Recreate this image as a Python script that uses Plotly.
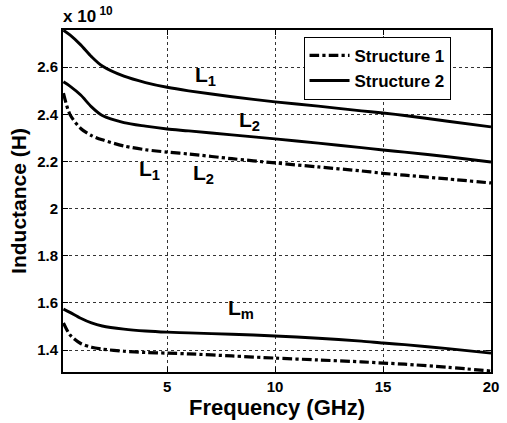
import plotly.graph_objects as go

freq = [0.2, 0.5, 1, 1.5, 2, 3, 4, 5, 6, 8, 10, 12, 14, 15, 16, 18, 20]

s2_L1 = [2.757, 2.737, 2.695, 2.645, 2.605, 2.562, 2.535, 2.515, 2.50, 2.475, 2.453, 2.435, 2.415, 2.406, 2.395, 2.371, 2.347]
s2_L2 = [2.538, 2.52, 2.482, 2.432, 2.395, 2.365, 2.35, 2.338, 2.33, 2.313, 2.296, 2.278, 2.259, 2.249, 2.24, 2.22, 2.198]
s1_L = [2.49, 2.40, 2.34, 2.31, 2.292, 2.266, 2.25, 2.24, 2.232, 2.212, 2.194, 2.177, 2.16, 2.15, 2.142, 2.126, 2.109]
s2_Lm = [1.574, 1.56, 1.535, 1.515, 1.502, 1.489, 1.481, 1.476, 1.473, 1.467, 1.46, 1.45, 1.438, 1.43, 1.423, 1.406, 1.387]
s1_Lm = [1.515, 1.465, 1.428, 1.412, 1.404, 1.395, 1.39, 1.387, 1.384, 1.375, 1.366, 1.358, 1.35, 1.345, 1.34, 1.327, 1.311]

x_ticks = [5, 10, 15, 20]
y_ticks = [1.4, 1.6, 1.8, 2.0, 2.2, 2.4, 2.6]
y_tick_text = ["1.4", "1.6", "1.8", "2", "2.2", "2.4", "2.6"]

label_text = ["L<sub>1</sub>", "L<sub>2</sub>", "L<sub>1</sub>", "L<sub>2</sub>", "L<sub>m</sub>"]
label_x = [6.77, 8.82, 4.18, 6.68, 8.4]
label_y = [2.562, 2.372, 2.162, 2.147, 1.575]

FONT = "Liberation Sans, Arial, sans-serif"

fig = go.Figure()
fig.add_trace(go.Scatter(x=freq, y=s1_L, mode="lines", name="Structure 1",
                         line=dict(color="black", width=3.2, dash="dashdot", shape="spline", smoothing=0.8)))
fig.add_trace(go.Scatter(x=freq, y=s1_Lm, mode="lines", showlegend=False,
                         line=dict(color="black", width=3.2, dash="dashdot", shape="spline", smoothing=0.8)))
fig.add_trace(go.Scatter(x=freq, y=s2_L1, mode="lines", name="Structure 2",
                         line=dict(color="black", width=2.9, shape="spline", smoothing=0.8)))
fig.add_trace(go.Scatter(x=freq, y=s2_L2, mode="lines", showlegend=False,
                         line=dict(color="black", width=2.9, shape="spline", smoothing=0.8)))
fig.add_trace(go.Scatter(x=freq, y=s2_Lm, mode="lines", showlegend=False,
                         line=dict(color="black", width=2.9, shape="spline", smoothing=0.8)))

for lx, ly, txt in zip(label_x, label_y, label_text):
    fig.add_annotation(x=lx, y=ly, text=txt, showarrow=False, xref="x", yref="y",
                       font=dict(family=FONT, size=21, color="black", weight="bold"))

fig.add_annotation(x=0, y=1.0, xref="paper", yref="paper", xanchor="left", yanchor="bottom",
                   text="x 10<sup> 10</sup>", showarrow=False, xshift=-2, yshift=2,
                   font=dict(family=FONT, size=17, color="black", weight="bold"))

axis_common = dict(
    showline=True, linecolor="black", linewidth=2, mirror="ticks",
    ticks="inside", ticklen=5, tickwidth=1, tickcolor="black",
    showgrid=True, gridcolor="#333", griddash="dot", gridwidth=1, zeroline=False,
    tickfont=dict(family=FONT, size=15, color="black", weight="bold"),
)

fig.update_xaxes(range=[0.18, 20], tickvals=x_ticks,
                 title=dict(text="Frequency (GHz)", font=dict(family=FONT, size=22, color="black", weight="bold"), standoff=0),
                 **axis_common)
fig.update_yaxes(range=[1.307, 2.758], tickvals=y_ticks, ticktext=y_tick_text,
                 title=dict(text="Inductance (H)", font=dict(family=FONT, size=21, color="black", weight="bold"), standoff=5),
                 **axis_common)

fig.update_layout(
    width=507, height=423,
    margin=dict(l=63, r=8, t=30, b=51),
    plot_bgcolor="white", paper_bgcolor="white",
    legend=dict(x=0.562, y=0.98, xanchor="left", yanchor="top",
                bgcolor="white", bordercolor="black", borderwidth=1,
                font=dict(family=FONT, size=17, color="black", weight="bold"),
                tracegroupgap=0, itemwidth=40),
    showlegend=True,
)

fig.write_html("out.html")
